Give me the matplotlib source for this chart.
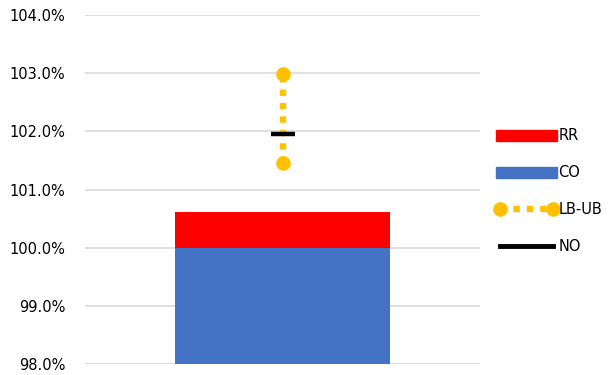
import matplotlib
matplotlib.use('Agg')
import matplotlib.pyplot as plt
from matplotlib.patches import Patch
from matplotlib.lines import Line2D
from matplotlib.ticker import PercentFormatter

# values (fractions)
categories = ['']
co = [1.000]
rr = [0.0062]
lb = [1.0145]
ub = [1.0299]
no = [1.0196]

yticks = [0.98, 0.99, 1.00, 1.01, 1.02, 1.03, 1.04]

blue = '#4472C4'
red = '#FF0000'
gold = '#FFC000'

plt.rcParams['font.family'] = ['DejaVu Sans']

fig = plt.figure(figsize=(6.11, 3.75), dpi=100)
ax = fig.add_axes([0.139, 0.029, 0.647, 0.931])

x = list(range(len(categories)))
ax.bar(x, co, width=0.545, color=blue, zorder=2)
ax.bar(x, rr, bottom=co, width=0.545, color=red, zorder=2)

for i in x:
    ax.plot([i, i], [lb[i], ub[i]], color=gold, lw=4.6, dashes=(1, 1.1),
            solid_capstyle='butt', dash_capstyle='butt', zorder=3)
    ax.plot([i, i], [lb[i], ub[i]], ls='none', marker='o', ms=9.5,
            color=gold, zorder=4)
ax.plot(x, no, ls='none', marker='_', ms=17, mew=3.2, color='black', zorder=5)

ax.set_ylim(0.98, 1.04)
ax.set_xlim(-0.5, 0.5)
ax.set_yticks(yticks)
ax.yaxis.set_major_formatter(PercentFormatter(1.0, decimals=1))
ax.set_xticks([])
ax.grid(axis='y', color='#D9D9D9', lw=1.2, zorder=0)
ax.set_axisbelow(True)
for s in ax.spines.values():
    s.set_visible(False)
ax.tick_params(axis='y', length=0, pad=14, labelsize=10.5, colors='#000000')

handles = [
    Patch(color=red, label='RR'),
    Patch(color=blue, label='CO'),
    Line2D([0], [0], color=gold, lw=4.6, dashes=(1, 1.1), marker='o', ms=9.5,
           label='LB-UB'),
    Line2D([0], [0], color='black', lw=3.5, label='NO'),
]
fig.legend(handles=handles, loc='center left', bbox_to_anchor=(0.802, 0.49),
           frameon=False, fontsize=10.5, handlelength=4.2, handleheight=0.75,
           labelspacing=1.5, handletextpad=0.1, numpoints=2, borderaxespad=0)

fig.savefig('out.png', dpi=100)
